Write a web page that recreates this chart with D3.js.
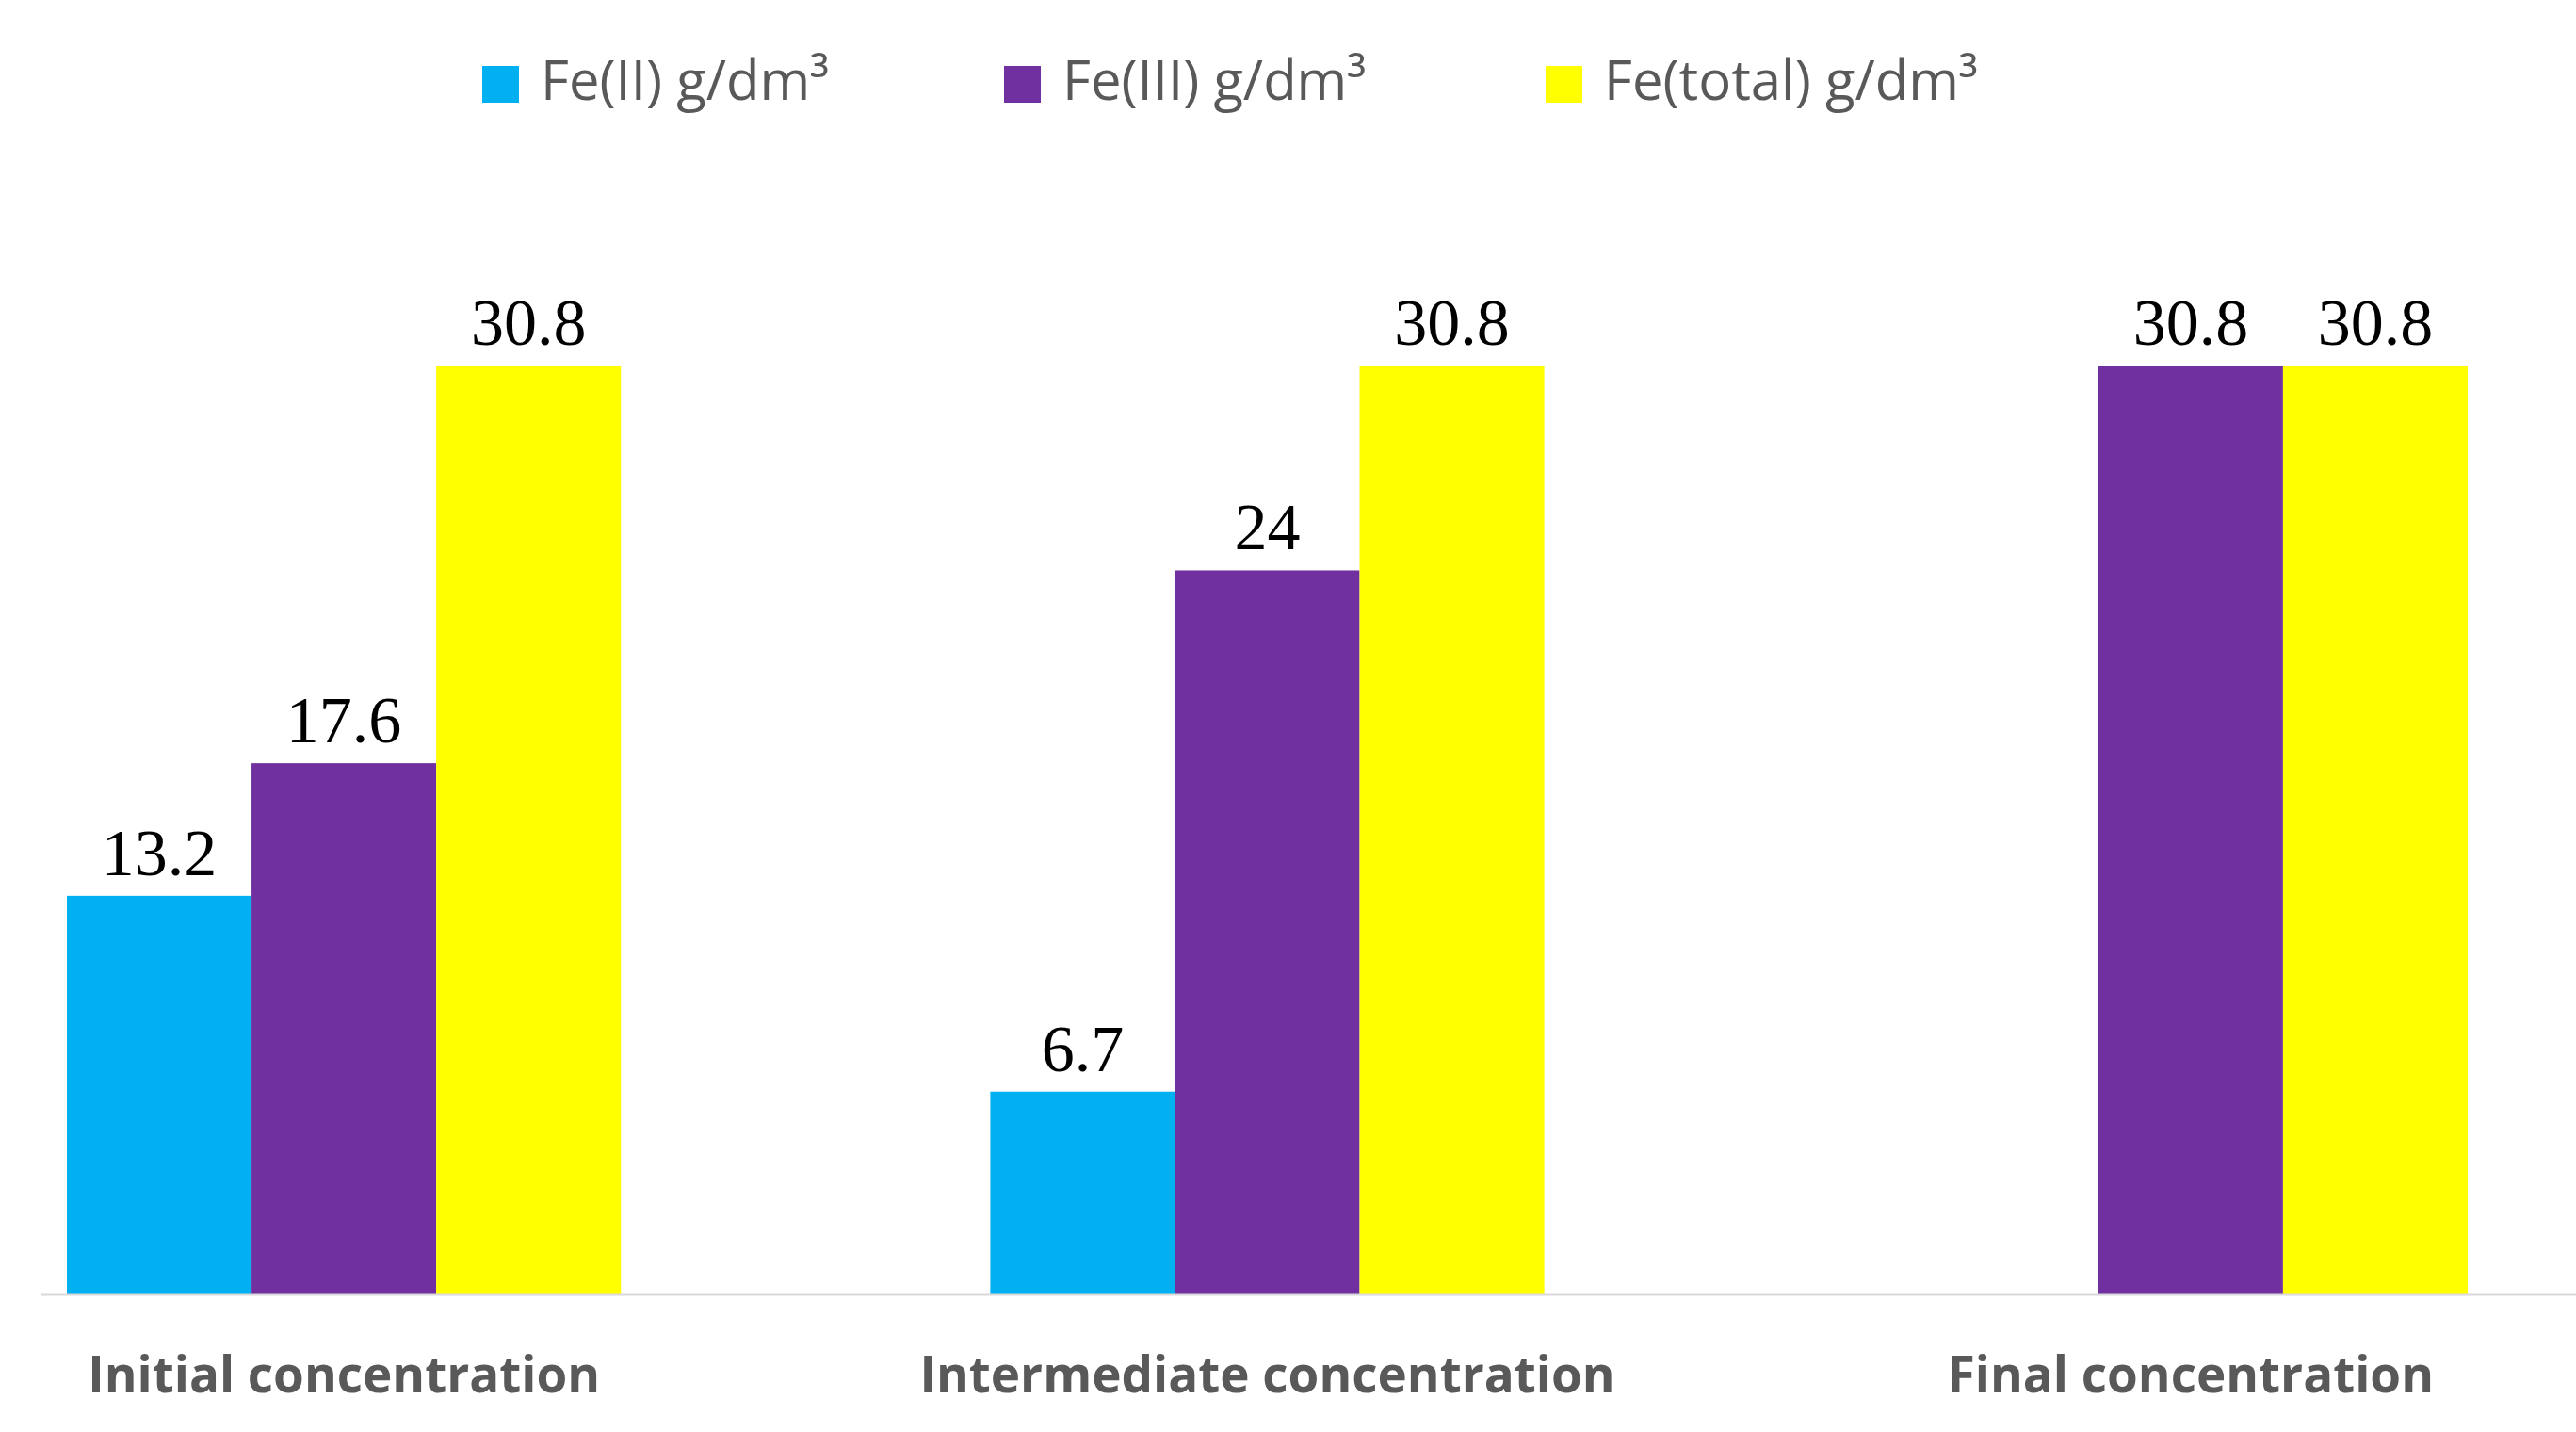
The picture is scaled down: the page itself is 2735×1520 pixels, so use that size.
<!DOCTYPE html>
<html>
<head>
<meta charset="utf-8">
<script src="https://cdn.jsdelivr.net/npm/d3@7"></script>
<style>
body{margin:0;background:#fff;}
</style>
</head>
<body>
<svg id="chart" width="2735" height="1520"></svg>
<script>
var categories = ['Initial concentration', 'Intermediate concentration', 'Final concentration'];
var seriesNames = ['Fe(II) g/dm³', 'Fe(III) g/dm³', 'Fe(total) g/dm³'];
var feII = [13.2, 6.7, 0];
var feIII = [17.6, 24, 30.8];
var feTotal = [30.8, 30.8, 30.8];
var colors = ['#00b0f0', '#7030a0', '#ffff00'];

var series = [feII, feIII, feTotal];
var svg = d3.select('#chart');
var baseY = 1373;

var x0 = d3.scaleBand().domain(categories).range([71, 2620]).paddingInner(0.4).paddingOuter(0);
var x1 = d3.scaleBand().domain(d3.range(3)).range([0, x0.bandwidth()]);
var y = d3.scaleLinear().domain([0, 30.8]).range([baseY, 388]);

//bars and value labels
categories.forEach(function(cat, i){
	var g = svg.append('g').attr('transform', 'translate(' + x0(cat) + ',0)');
	series.forEach(function(s, j){
		var v = s[i];
		if(v <= 0) return;
		g.append('rect')
			.attr('x', x1(j))
			.attr('y', y(v))
			.attr('width', x1.bandwidth())
			.attr('height', baseY - y(v))
			.attr('fill', colors[j]);
		g.append('text')
			.attr('x', x1(j) + x1.bandwidth() / 2)
			.attr('y', y(v) - 22)
			.attr('text-anchor', 'middle')
			.attr('font-family', 'Liberation Serif, serif')
			.attr('font-size', 70)
			.attr('fill', '#000')
			.text(v);
	});
});

//axis line
svg.append('line')
	.attr('x1', 44).attr('x2', 2735)
	.attr('y1', baseY + 1).attr('y2', baseY + 1)
	.attr('stroke', '#d9d9d9').attr('stroke-width', 3);

//category labels
svg.selectAll('.cat').data(categories).enter().append('text')
	.attr('class', 'cat')
	.attr('x', function(d){ return x0(d) + x0.bandwidth() / 2; })
	.attr('y', 1478)
	.attr('text-anchor', 'middle')
	.attr('font-family', 'Open Sans, sans-serif')
	.attr('font-weight', 'bold')
	.attr('font-size', 53)
	.attr('fill', '#595959')
	.text(function(d){ return d; });

//legend
var legendX = [512, 1066, 1641];
seriesNames.forEach(function(name, j){
	svg.append('rect')
		.attr('x', legendX[j]).attr('y', 70)
		.attr('width', 39).attr('height', 39)
		.attr('fill', colors[j]);
	svg.append('text')
		.attr('x', legendX[j] + 62).attr('y', 106)
		.attr('font-family', 'Open Sans, sans-serif')
		.attr('font-size', 58)
		.attr('fill', '#595959')
		.text(name);
});
</script>
</body>
</html>
